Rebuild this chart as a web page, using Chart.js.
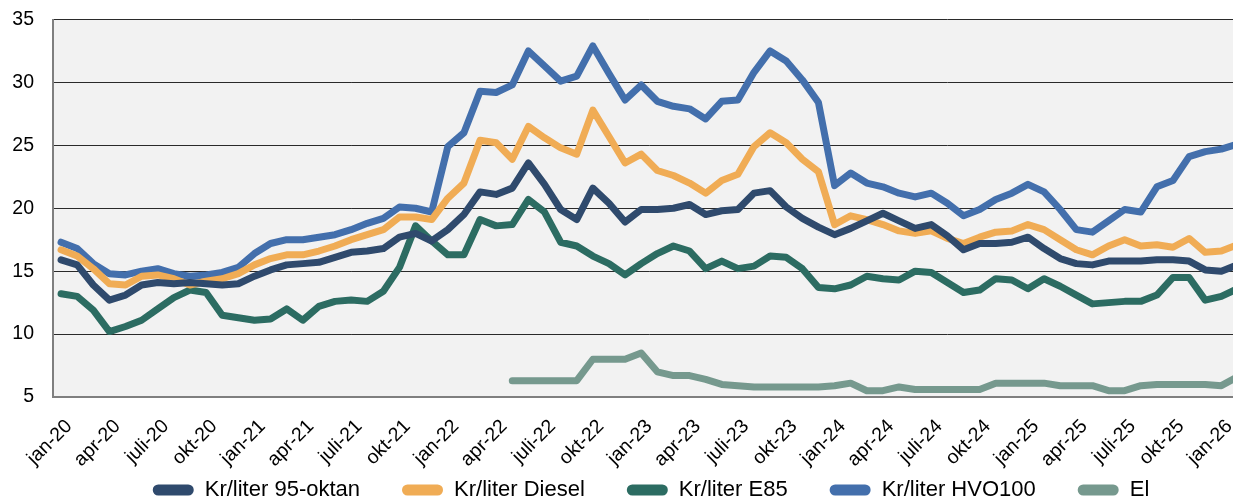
<!DOCTYPE html>
<html lang="no">
<head>
<meta charset="utf-8">
<title>Drivstoffpriser</title>
<script src="https://cdn.jsdelivr.net/npm/chart.js@4.4.1/dist/chart.umd.min.js"></script>
<style>
  html, body { margin: 0; padding: 0; background: #fff; overflow: hidden; }
  #wrap { position: relative; width: 1272px; height: 500px; }
</style>
</head>
<body>
<div id="wrap"><canvas id="chart"></canvas></div>
<script>
// Kategorier: måneder jan-20 .. feb-26 (siste punkt er delvis utenfor bildet)
const monthNames = ['jan', 'feb', 'mar', 'apr', 'mai', 'jun', 'juli', 'aug', 'sep', 'okt', 'nov', 'des'];
const years = ['20', '21', '22', '23', '24', '25', '26'];
const monthCount = 74;
const labels = [];
for (let i = 0; i < monthCount; i++) {
    labels.push(monthNames[i % 12] + '-' + years[Math.floor(i / 12)]);
}

// Kr/liter 95-oktan
const oktan95 = [
    15.9, 15.5, 13.9, 12.7, 13.1, 13.9, 14.1, 14.0, 14.1, 14.0, 13.9, 14.0,
    14.6, 15.1, 15.5, 15.6, 15.7, 16.1, 16.5, 16.6, 16.8, 17.7, 18.0, 17.4,
    18.3, 19.5, 21.3, 21.1, 21.6, 23.6, 21.9, 19.9, 19.1, 21.6, 20.4, 18.9,
    19.9, 19.9, 20.0, 20.3, 19.5, 19.8, 19.9, 21.2, 21.4, 20.1, 19.2, 18.5,
    17.9, 18.4, 19.0, 19.6, 19.0, 18.4, 18.7, 17.8, 16.7, 17.2, 17.2, 17.3,
    17.7, 16.8, 16.0, 15.6, 15.5, 15.8, 15.8, 15.8, 15.9, 15.9, 15.8, 15.1,
    15.0, 15.5
];

// Kr/liter Diesel
const diesel = [
    16.7, 16.2, 15.2, 14.0, 13.9, 14.6, 14.7, 14.4, 13.9, 14.2, 14.4, 14.8,
    15.5, 16.0, 16.3, 16.3, 16.6, 17.0, 17.5, 17.9, 18.3, 19.3, 19.3, 19.1,
    20.8, 22.0, 25.4, 25.2, 23.9, 26.5, 25.6, 24.8, 24.3, 27.8, 25.7, 23.6,
    24.3, 23.0, 22.6, 22.0, 21.2, 22.2, 22.7, 24.9, 26.0, 25.2, 23.9, 22.9,
    18.7, 19.4, 19.1, 18.7, 18.2, 18.0, 18.2, 17.6, 17.2, 17.7, 18.1, 18.2,
    18.7, 18.3, 17.5, 16.7, 16.3, 17.0, 17.5, 17.0, 17.1, 16.9, 17.6, 16.5,
    16.6, 17.1
];

// Kr/liter E85
const e85 = [
    13.2, 13.0, 11.9, 10.2, 10.6, 11.1, 12.0, 12.9, 13.5, 13.3, 11.5, 11.3,
    11.1, 11.2, 12.0, 11.1, 12.2, 12.6, 12.7, 12.6, 13.4, 15.3, 18.6, 17.4,
    16.3, 16.3, 19.1, 18.6, 18.7, 20.7, 19.7, 17.3, 17.0, 16.2, 15.6, 14.7,
    15.6, 16.4, 17.0, 16.6, 15.2, 15.8, 15.2, 15.4, 16.2, 16.1, 15.2, 13.7,
    13.6, 13.9, 14.6, 14.4, 14.3, 15.0, 14.9, 14.1, 13.3, 13.5, 14.4, 14.3,
    13.6, 14.4, 13.8, 13.1, 12.4, 12.5, 12.6, 12.6, 13.1, 14.5, 14.5, 12.7,
    13.0, 13.6
];

// Kr/liter HVO100
const hvo100 = [
    17.3, 16.8, 15.6, 14.8, 14.7, 15.0, 15.2, 14.8, 14.6, 14.7, 14.9, 15.3,
    16.4, 17.2, 17.5, 17.5, 17.7, 17.9, 18.3, 18.8, 19.2, 20.1, 20.0, 19.7,
    24.9, 26.0, 29.3, 29.2, 29.8, 32.5, 31.3, 30.1, 30.5, 32.9, 30.7, 28.6,
    29.8, 28.5, 28.1, 27.9, 27.1, 28.5, 28.6, 30.8, 32.5, 31.7, 30.2, 28.4,
    21.8, 22.8, 22.0, 21.7, 21.2, 20.9, 21.2, 20.4, 19.4, 19.9, 20.7, 21.2,
    21.9, 21.3, 19.9, 18.3, 18.1, 19.0, 19.9, 19.7, 21.7, 22.2, 24.1, 24.5,
    24.7, 25.1
];

// El, serien starter mai-22
const el = [
    null, null, null, null, null, null, null, null, null, null, null, null,
    null, null, null, null, null, null, null, null, null, null, null, null,
    null, null, null, null, 6.3, 6.3, 6.3, 6.3, 6.3, 8.0, 8.0, 8.0,
    8.5, 7.0, 6.7, 6.7, 6.4, 6.0, 5.9, 5.8, 5.8, 5.8, 5.8, 5.8,
    5.9, 6.1, 5.5, 5.5, 5.8, 5.6, 5.6, 5.6, 5.6, 5.6, 6.1, 6.1,
    6.1, 6.1, 5.9, 5.9, 5.9, 5.5, 5.5, 5.9, 6.0, 6.0, 6.0, 6.0,
    5.9, 6.6
];

const fontFamily = '"Liberation Sans", Arial, Helvetica, sans-serif';
Chart.defaults.font.family = fontFamily;
Chart.defaults.color = '#000';

// Grå bakgrunn i plottområdet
const plotBg = {
    id: 'plotBg',
    beforeDraw(chart) {
        const { ctx, chartArea: a } = chart;
        ctx.save();
        ctx.fillStyle = '#f2f2f2';
        ctx.fillRect(a.left, a.top, a.right - a.left, a.bottom - a.top);
        ctx.restore();
    }
};

// Flytter forklaringen (bildet er beskåret til høyre)
const legendShift = {
    id: 'legendShift',
    afterLayout(chart) {
        const lg = chart.legend;
        if (!lg) return;
        lg.left += 15;
        lg.right += 15;
        lg.top = 437;
        lg.bottom = 500;
    }
};

function line(label, data, color) {
    return {
        label: label,
        data: data,
        borderColor: color,
        backgroundColor: color,
        borderWidth: 7,
        pointRadius: 0,
        pointHoverRadius: 0,
        tension: 0,
        fill: false,
        borderCapStyle: 'round',
        borderJoinStyle: 'round',
        spanGaps: false
    };
}

const chart = new Chart(document.getElementById('chart'), {
    type: 'line',
    data: {
        labels: labels,
        datasets: [
            line('Kr/liter 95-oktan', oktan95, '#2f4a6d'),
            line('Kr/liter Diesel', diesel, '#f0ac55'),
            line('Kr/liter E85', e85, '#2c6c62'),
            line('Kr/liter HVO100', hvo100, '#436fac'),
            line('El', el, '#76998e')
        ]
    },
    options: {
        responsive: true,
        maintainAspectRatio: false,
        animation: false,
        layout: { padding: { top: 19.5, left: 0, right: 0, bottom: 0 } },
        plugins: {
            tooltip: { enabled: false },
            legend: {
                position: 'bottom',
                maxHeight: 28,
                labels: {
                    boxWidth: 41,
                    boxHeight: 11,
                    padding: 42,
                    useBorderRadius: true,
                    borderRadius: 5.5,
                    color: '#000',
                    font: { size: 22 },
                    generateLabels(chart) {
                        return Chart.defaults.plugins.legend.labels.generateLabels(chart).map(item => {
                            item.lineWidth = 0;
                            item.fillStyle = item.strokeStyle;
                            return item;
                        });
                    }
                }
            }
        },
        scales: {
            x: {
                offset: true,
                grid: { display: false, drawTicks: false },
                border: { display: true, color: '#7f7f7f', width: 2 },
                ticks: {
                    autoSkip: false,
                    minRotation: 45,
                    maxRotation: 45,
                    padding: 18,
                    labelOffset: 8,
                    font: { size: 19.5 },
                    callback: (v, i) => (i % 3 === 0 ? labels[i] : '')
                },
                afterFit(scale) { scale.height = 75; }
            },
            y: {
                min: 5,
                max: 35,
                ticks: { stepSize: 5, padding: 19, font: { size: 19.5 } },
                grid: { color: '#2a2a2a', lineWidth: 1, drawTicks: false },
                border: { display: true, color: '#7f7f7f', width: 2 },
                afterFit(scale) {
                    scale.width = 53;
                    scale.paddingTop = 0;
                    scale.paddingBottom = 0;
                }
            }
        }
    },
    plugins: [plotBg, legendShift]
});
</script>
</body>
</html>
